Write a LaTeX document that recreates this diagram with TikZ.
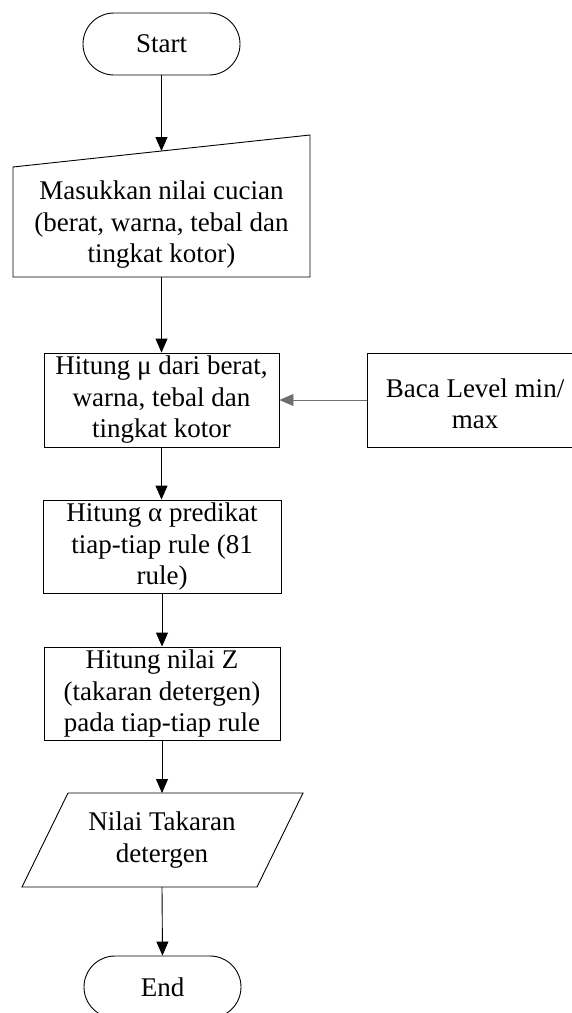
\documentclass[tikz,border=0pt]{standalone}
\usepackage{fontspec}
\setmainfont{Liberation Serif}
\usetikzlibrary{arrows.meta}
\definecolor{connGray}{RGB}{110,110,110}
\tikzset{
  txt/.style={font=\fontsize{27}{31.5}\selectfont, align=center, inner sep=0pt},
  term/.style={draw, line width=0.9pt, rectangle, rounded corners=31pt, minimum width=157pt, minimum height=62pt, txt},
  procbox/.style={draw, line width=0.9pt, rectangle, inner sep=0pt, txt},
  flow/.style={line width=0.9pt, -{Triangle[length=14pt,width=12pt]}},
}
\begin{document}
\begin{tikzpicture}[x=1pt,y=-1pt]
\useasboundingbox (0,0) rectangle (571,1013);
% Start
\node[term] (start) at (161.5,44) {Start};
% Manual input
\draw[line width=0.9pt] (13,167) -- (310,135) -- (310,277) -- (13,277) -- cycle;
\coordinate (inTop) at (161.5,151);
\coordinate (inBot) at (161.5,277);
\node[txt] (input) at (161.5,225) {Masukkan nilai cucian\\(berat, warna, tebal dan\\tingkat kotor)};
% Process boxes
\node[procbox, minimum width=235pt, minimum height=94pt] (mu) at (161.5,400) {Hitung μ dari berat,\\warna, tebal dan\\tingkat kotor};
\node[procbox, minimum width=240pt, minimum height=94pt] (baca) at (487,400) {};
\node[txt] (bacatxt) at (475,404) {Baca Level min/\\max};
\node[procbox, minimum width=238pt, minimum height=93pt] (alpha) at (162,546.5) {Hitung α predikat\\tiap-tiap rule (81\\rule)};
\node[procbox, minimum width=236pt, minimum height=93pt] (zval) at (162,693.5) {Hitung nilai Z\\(takaran detergen)\\pada tiap-tiap rule};
% Output parallelogram
\draw[line width=0.9pt] (68,793) -- (303,793) -- (257,887) -- (22,887) -- cycle;
\coordinate (outTop) at (162,793);
\coordinate (outBot) at (162,887);
\node[txt] (output) at (162,840) {Nilai Takaran\\detergen};
% End
\node[term] (end) at (162.5,987) {End};
% Connectors
\draw[flow] (start.south) -- (inTop);
\draw[flow] (inBot) -- (mu.north);
\draw[flow, draw=connGray] (baca.west) -- (mu.east);
\draw[flow] (mu.south) -- (mu.south |- alpha.north);
\draw[flow] (alpha.south) -- (zval.north);
\draw[flow] (zval.south) -- (outTop);
\draw[flow] (outBot) -- (end.north);
\end{tikzpicture}
\end{document}
